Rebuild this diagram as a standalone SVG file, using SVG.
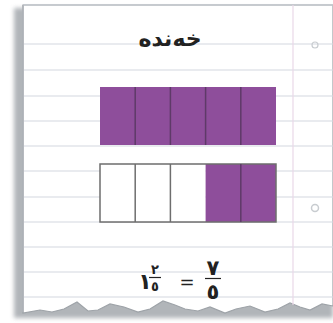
<svg xmlns="http://www.w3.org/2000/svg" width="333" height="323" viewBox="0 0 333 323">
<defs>
<linearGradient id="shadow" x1="0" x2="1" y1="0" y2="0">
<stop offset="0" stop-color="#ffffff"/>
<stop offset="0.5" stop-color="#9aa0a6"/>
<stop offset="1" stop-color="#c8ccd0"/>
</linearGradient>
<filter id="blur" x="-5%" y="-5%" width="110%" height="110%"><feGaussianBlur stdDeviation="2"/></filter>
<style>
.rule{stroke:#d4d8df;stroke-width:1.2}
.cell{stroke:#6e6e6e;stroke-width:1.5}
.p{fill:#8e4e9b}
.w{fill:#ffffff}
.div{stroke:#5e3a68;stroke-width:1.5}
.t{font-family:"DejaVu Sans","Noto Sans",sans-serif;fill:#222;text-anchor:middle}
</style>
</defs>
<rect width="333" height="323" fill="#ffffff"/>
<g id="paper">
<path d="M14,8 H333 V318 L14,318 Z" fill="#9ea3a8" filter="url(#blur)" opacity="0.8"/>
<path d="M23,5 H333 V306 L322,304 L310,310 L300,307 L290,303 L278,309 L265,312 L250,306 L236,309 L225,313 L210,307 L198,311 L185,309 L175,305 L163,301 L150,309 L138,312 L124,307 L110,304 L98,310 L88,311 L77,302 L64,309 L52,312 L40,310 L23,313 Z" fill="#ffffff" stroke="#9ea3a8" stroke-width="1.2"/>
<line x1="23" y1="5" x2="333" y2="5" stroke="#c4c8ce" stroke-width="1.5"/>
<line x1="23" y1="5" x2="23" y2="312" stroke="#b0b5ba" stroke-width="1.5"/>
<g class="rule">
<line x1="24" y1="44" x2="333" y2="44"/>
<line x1="24" y1="70" x2="333" y2="70"/>
<line x1="24" y1="96" x2="333" y2="96"/>
<line x1="24" y1="121" x2="333" y2="121"/>
<line x1="24" y1="146" x2="333" y2="146"/>
<line x1="24" y1="171" x2="333" y2="171"/>
<line x1="24" y1="197" x2="333" y2="197"/>
<line x1="24" y1="222" x2="333" y2="222"/>
<line x1="24" y1="247" x2="333" y2="247"/>
<line x1="24" y1="272" x2="333" y2="272"/>
<line x1="24" y1="297" x2="333" y2="297"/>
</g>
<line x1="293" y1="5" x2="293" y2="305" stroke="#ead8e8" stroke-width="1.2"/>
<circle cx="315" cy="45" r="3" fill="none" stroke="#c8ccd0" stroke-width="1.2"/>
<circle cx="315" cy="208" r="3.5" fill="none" stroke="#c8ccd0" stroke-width="1.5"/>
</g>
<g id="title"><text class="t" x="170" y="46" font-size="22" font-weight="bold">خەندە</text></g>
<g id="bar1">
<rect class="p" x="100" y="87" width="176" height="58"/>
<g class="div">
<line x1="135.2" y1="87" x2="135.2" y2="145"/>
<line x1="170.4" y1="87" x2="170.4" y2="145"/>
<line x1="205.6" y1="87" x2="205.6" y2="145"/>
<line x1="240.8" y1="87" x2="240.8" y2="145"/>
</g>
</g>
<g id="bar2">
<rect class="w" x="100" y="164" width="105.6" height="58"/>
<rect class="p" x="205.6" y="164" width="70.4" height="58"/>
<rect x="100" y="164" width="176" height="58" fill="none" class="cell"/>
<g class="cell">
<line x1="135.2" y1="164" x2="135.2" y2="222"/>
<line x1="170.4" y1="164" x2="170.4" y2="222"/>
</g>
<line class="div" x1="240.8" y1="164" x2="240.8" y2="222"/>
</g>
<g id="equation">
<text class="t" x="145" y="289" font-size="22" font-weight="bold">١</text>
<text class="t" x="155" y="274" font-size="13" font-weight="bold">٢</text>
<line x1="149" y1="277.5" x2="161" y2="277.5" stroke="#222" stroke-width="1.2"/>
<text class="t" x="155" y="291" font-size="13" font-weight="bold">٥</text>
<text class="t" x="187" y="288" font-size="18">=</text>
<text class="t" x="213" y="275" font-size="21" font-weight="bold">٧</text>
<line x1="205" y1="278.5" x2="221" y2="278.5" stroke="#222" stroke-width="1.2"/>
<text class="t" x="213" y="299" font-size="21" font-weight="bold">٥</text>
</g>
</svg>
